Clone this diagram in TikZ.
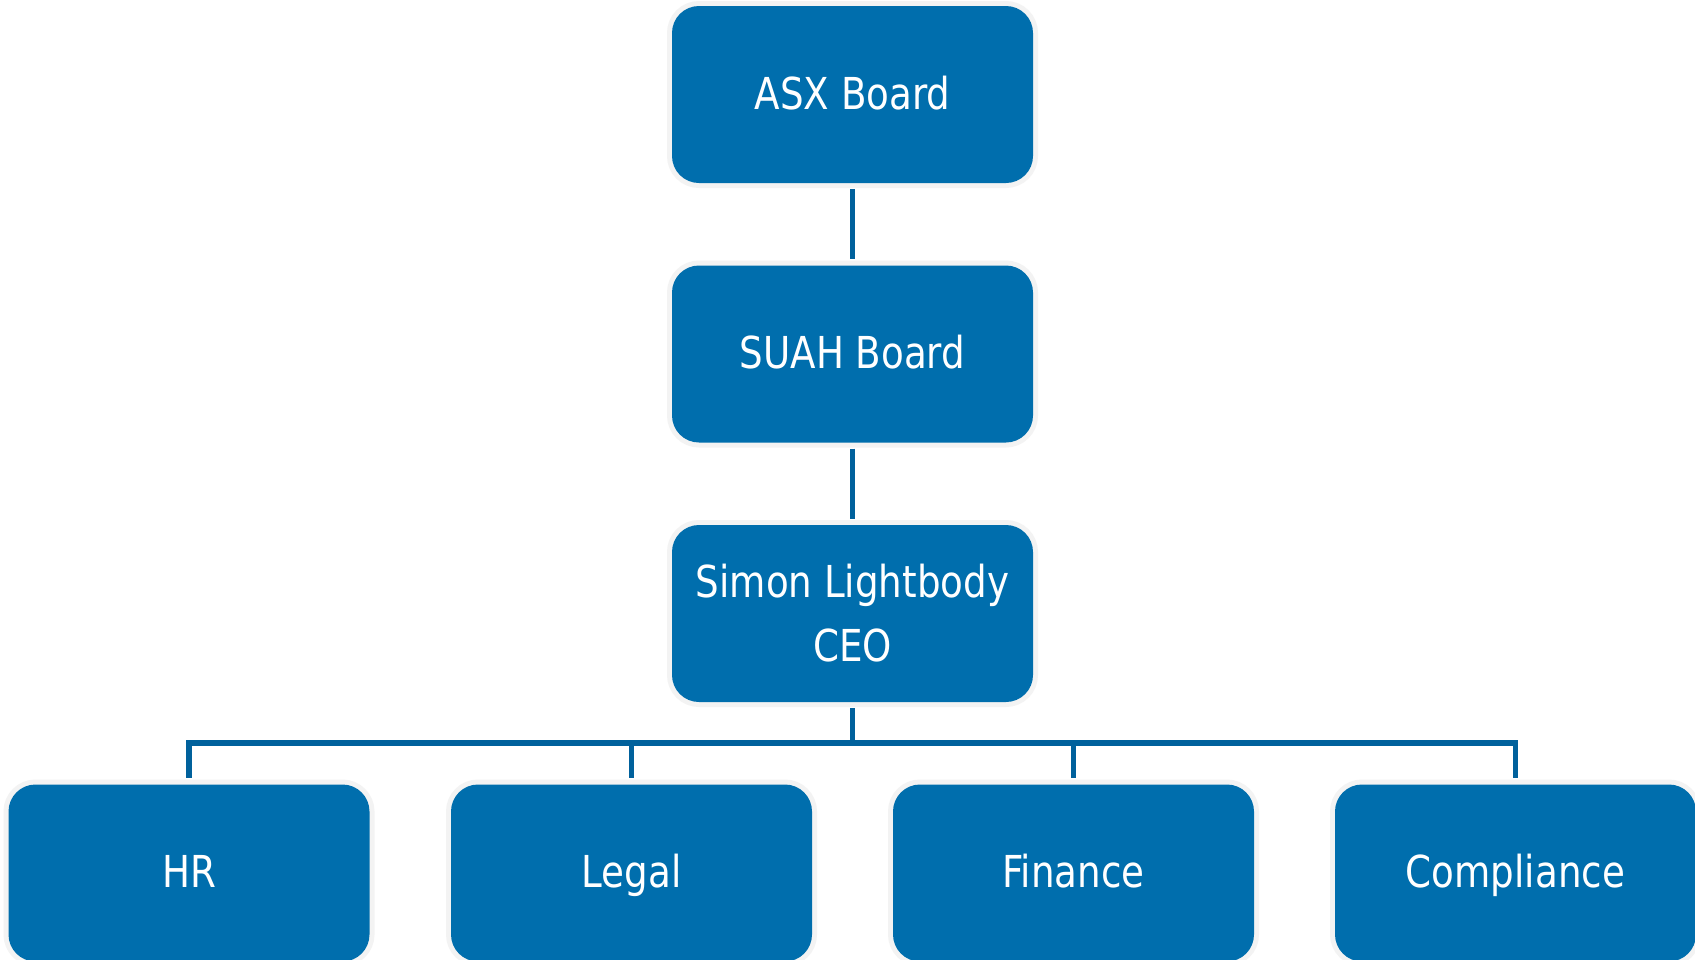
\documentclass[tikz,border=0pt]{standalone}
\usepackage{fontspec}
\setmainfont[FakeStretch=0.94]{DejaVu Sans Condensed}
\definecolor{boxblue}{HTML}{006EAD}
\definecolor{lineblue}{HTML}{00619C}
\definecolor{boxedge}{HTML}{F3F3F3}
\begin{document}
\begin{tikzpicture}[x=1pt,y=-1pt,
  orgbox/.style={rectangle, rounded corners=27pt, fill=boxblue,
    preaction={draw=boxedge, line width=10pt},
    minimum width=361pt, minimum height=177pt, inner sep=0pt,
    text=white, align=center, font=\fontsize{44}{64}\selectfont},
  oneline/.style={text height=32pt, text depth=3pt},
  link/.style={draw=lineblue, line width=5.5pt}]
\useasboundingbox (0,0) rectangle (1695,959);
\clip (0,0) rectangle (1695,959);
\fill[white] (0,0) rectangle (1695,959);
\node[orgbox,oneline] (asx) at (852.5,94.5) {ASX Board};
\node[orgbox,oneline] (suah) at (852.5,354) {SUAH Board};
\node[orgbox] (ceo) at (852.5,613.5) {Simon Lightbody\\CEO};
\node[orgbox,oneline] (hr) at (189,873) {HR};
\node[orgbox,oneline] (legal) at (631.5,873) {Legal};
\node[orgbox,oneline] (fin) at (1073.5,873) {Finance};
\node[orgbox,oneline] (comp) at (1515.5,873) {Compliance};
\coordinate (bus) at (852.5,743);
\draw[link] ([yshift=-6pt]asx.south) -- ([yshift=6pt]suah.north);
\draw[link] ([yshift=-6pt]suah.south) -- ([yshift=6pt]ceo.north);
\draw[link] ([yshift=-6pt]ceo.south) -- (bus);
\foreach \c in {hr,legal,fin,comp}
  \draw[link] (bus) -| ([yshift=6pt]\c.north);
\end{tikzpicture}
\end{document}
